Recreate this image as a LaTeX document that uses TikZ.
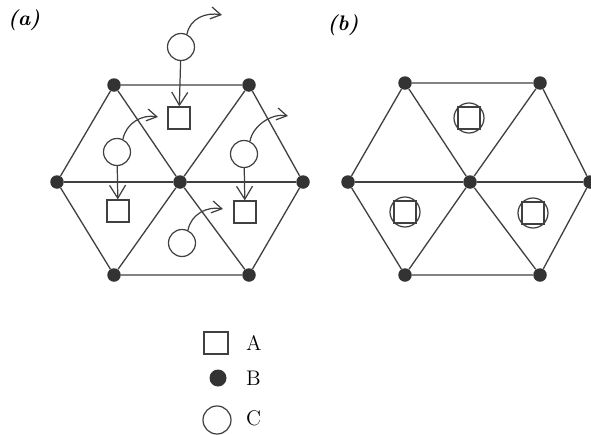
\documentclass[tikz,border=0pt]{standalone}
\usetikzlibrary{arrows.meta}
\begin{document}
\begin{tikzpicture}[
  x=0.2mm, y=-0.2mm,
  siteb/.style={circle,fill=black!80,inner sep=0pt,minimum size=2.7mm},
  sitea/.style={rectangle,draw=black!75,line width=0.7pt,inner sep=0pt,
                minimum size=4.4mm},
  sitec/.style={circle,draw=black!75,line width=0.7pt,inner sep=0pt,
                minimum size=5.4mm},
  bond/.style={draw=black!75,line width=0.75pt},
  hop/.style={-{Straight Barb[length=2.6mm,width=3.2mm]},draw=black!75,
              line width=0.7pt},
  escape/.style={-{Straight Barb[length=2mm,width=2.4mm]},draw=black!75,
                 line width=0.7pt},
  panel/.style={font=\large\bfseries\itshape},
  legend/.style={anchor=west,font=\large}
]
\useasboundingbox (0,0) rectangle (591,435);

% panel (a)
\node[panel] (la) at (24,20) {(a)};
\node[siteb] (b1) at (114,85) {};
\node[siteb] (b2) at (249,85) {};
\node[siteb] (b3) at (57,182) {};
\node[siteb] (b4) at (180,182) {};
\node[siteb] (b5) at (303,182) {};
\node[siteb] (b6) at (114,275) {};
\node[siteb] (b7) at (249,275) {};
\draw[bond] (b1)--(b2)--(b5)--(b7)--(b6)--(b3)--(b1);
\draw[bond] (b3)--(b4)--(b5);
\draw[bond] (b1)--(b4)--(b7);
\draw[bond] (b2)--(b4)--(b6);

\node[sitea] (a1) at (179,118) {};
\node[sitea] (a2) at (118,211) {};
\node[sitea] (a3) at (245,212) {};
\node[sitec] (c1) at (181,47) {};
\node[sitec] (c2) at (117,152) {};
\node[sitec] (c3) at (244,154) {};
\node[sitec] (c4) at (182,243) {};

\draw[hop] (c1)--(a1);
\draw[hop] (c2)--(a2);
\draw[hop] (c3)--(a3);

\coordinate (e1) at (222,15);
\coordinate (e2) at (158,117);
\coordinate (e3) at (288,116);
\coordinate (e4) at (223,209);
\draw[escape] (c1.65) .. controls +(3,-16) and +(-16,-3) .. (e1);
\draw[escape] (c2.65) .. controls +(3,-16) and +(-16,-3) .. (e2);
\draw[escape] (c3.65) .. controls +(3,-16) and +(-16,-3) .. (e3);
\draw[escape] (c4.65) .. controls +(3,-16) and +(-16,-3) .. (e4);

% panel (b)
\node[panel] (lb) at (343,25) {(b)};
\node[siteb] (d1) at (405,83) {};
\node[siteb] (d2) at (540,83) {};
\node[siteb] (d3) at (348,182) {};
\node[siteb] (d4) at (470,182) {};
\node[siteb] (d5) at (590,182) {};
\node[siteb] (d6) at (405,275) {};
\node[siteb] (d7) at (540,275) {};
\draw[bond] (d1)--(d2)--(d5)--(d7)--(d6)--(d3)--(d1);
\draw[bond] (d3)--(d4)--(d5);
\draw[bond] (d1)--(d4)--(d7);
\draw[bond] (d2)--(d4)--(d6);

\node[sitec,minimum size=6mm] (o1) at (469,118) {};
\node[sitec,minimum size=6mm] (o2) at (405,212) {};
\node[sitec,minimum size=6mm] (o3) at (533,213) {};
\node[sitea] (p1) at (o1) {};
\node[sitea] (p2) at (o2) {};
\node[sitea] (p3) at (o3) {};

% legend
\node[sitea,minimum width=4.8mm] (ka) at (216,343) {};
\node[siteb,minimum size=3.4mm] (kb) at (218,378) {};
\node[sitec,minimum size=5.6mm] (kc) at (217,420) {};
\node[legend] (ta) at (240,343) {A};
\node[legend] (tb) at (240,378) {B};
\node[legend] (tc) at (240,418) {C};
\end{tikzpicture}
\end{document}
